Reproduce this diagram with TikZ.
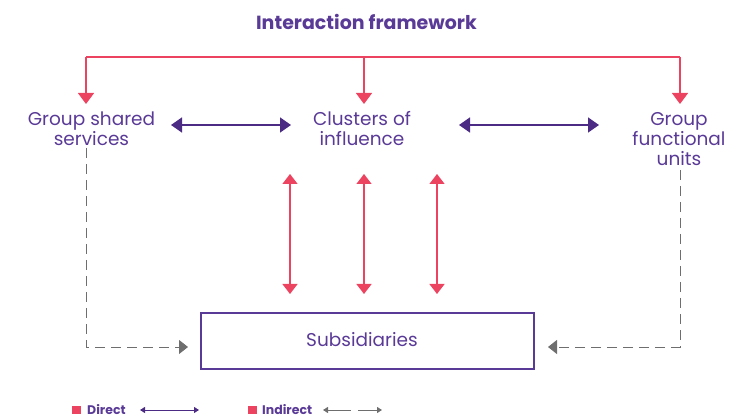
\documentclass[tikz,border=0pt]{standalone}
\usepackage{fontspec}
\setmainfont{Poppins}
\usetikzlibrary{arrows.meta}
\definecolor{tpurple}{HTML}{5A3A97}
\definecolor{dpurple}{HTML}{4B2B83}
\definecolor{tred}{HTML}{EC4460}
\definecolor{tgray}{HTML}{6E6E6E}
\tikzset{
  lbl/.style={text=tpurple, align=center, font=\fontsize{18.5}{20}\selectfont, inner sep=0pt},
  redline/.style={draw=tred, line width=1.4pt},
  redarr/.style={redline, -{Triangle[width=16pt,length=11pt]}},
  reddbl/.style={redline, {Triangle[width=15pt,length=10pt]}-{Triangle[width=15pt,length=10pt]}},
  pdbl/.style={draw=dpurple, line width=1.6pt, {Triangle[width=15pt,length=11pt]}-{Triangle[width=15pt,length=11pt]}},
  gdash/.style={draw=tgray, line width=1pt, dash pattern=on 10pt off 6pt, -{Triangle[width=14pt,length=9pt]}},
  subbox/.style={draw=tpurple, line width=1.4pt, minimum width=333pt, minimum height=56pt},
  legtxt/.style={text=tpurple, font=\fontsize{12.5}{14}\selectfont\bfseries, anchor=base west, inner sep=0pt},
  legsq/.style={fill=tred}
}
\begin{document}
\begin{tikzpicture}[x=1pt,y=-1pt]
\useasboundingbox (0,0) rectangle (732,417);
\node[text=tpurple, font=\fontsize{19}{22}\selectfont\bfseries] (title) at (366.5,22) {Interaction framework};

\node[lbl] (gss) at (91.5,129) {Group shared\\services};
\node[lbl] (coi) at (362,129) {Clusters of\\influence};
\node[lbl] (gfu) at (679,139) {Group\\functional\\units};
\node[subbox] (sub) at (367.5,341) {};
\node[lbl] (subt) at (362,340) {Subsidiaries};

% top red frame
\coordinate (hL) at (86,57);
\coordinate (hM) at (364,57);
\coordinate (hR) at (680,57);
\coordinate (tL) at (86,104);
\coordinate (tM) at (364,104);
\coordinate (tR) at (680,104);
\draw[redline] (hL) -- (hR);
\draw[redarr] (hL) -- (tL);
\draw[redarr] (hM) -- (tM);
\draw[redarr] (hR) -- (tR);

% purple double arrows
\coordinate (p1a) at (171,125);
\coordinate (p1b) at (291,125);
\coordinate (p2a) at (459,125);
\coordinate (p2b) at (599,125);
\draw[pdbl] (p1a) -- (p1b);
\draw[pdbl] (p2a) -- (p2b);

% red vertical double arrows
\foreach \x/\n in {290/a,364/b,437/c}{
  \coordinate (v\n1) at (\x,174);
  \coordinate (v\n2) at (\x,294);
  \draw[reddbl] (v\n1) -- (v\n2);
}

% gray dashed connectors
\coordinate (dL0) at (86,148);
\coordinate (dL1) at (86,347);
\coordinate (dLe) at (188,347);
\coordinate (dR0) at (680,170);
\coordinate (dR1) at (680,347);
\coordinate (dRe) at (548,347);
\draw[gdash] (dL0) -- (dL1) -- (dLe);
\draw[gdash] (dR0) -- (dR1) -- (dRe);

% legend
\fill[legsq] (72,406) rectangle (81,414);
\node[legtxt] (ld) at (87,414) {Direct};
\coordinate (la) at (140,410);
\coordinate (lb) at (199,410);
\draw[draw=dpurple, line width=1pt, {Triangle[width=6pt,length=5pt]}-{Triangle[width=6pt,length=5pt]}] (la) -- (lb);
\fill[legsq] (248,406) rectangle (257,414);
\node[legtxt] (li) at (262,414) {Indirect};
\coordinate (lc) at (323,410);
\coordinate (le) at (382,410);
\draw[draw=tgray, line width=1pt, dash pattern=on 23pt off 7pt on 40pt, {Triangle[width=6pt,length=5pt]}-{Triangle[width=6pt,length=5pt]}] (lc) -- (le);
\end{tikzpicture}
\end{document}
